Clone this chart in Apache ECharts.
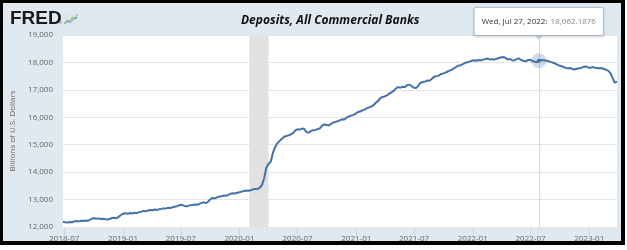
<!DOCTYPE html>
<html><head><meta charset="utf-8">
<script src="https://cdn.jsdelivr.net/npm/echarts@6/dist/echarts.min.js"></script>
<style>html,body{margin:0;padding:0;background:#fff}#c{width:627px;height:250px}</style>
</head><body><div id="c"></div>
<script>
// ---- data ----
const chartTitle = 'Deposits, All Commercial Banks';
const yAxisName = 'Billions of U.S. Dollars';
const firstWeek = '2018-06-27'; // weekly, Wednesdays
const values2018 = [12190,12170,12160,12185,12175,12200,12215,12205,12230,12220,12240,12225,12260,12310,12320,12300,12315,12290,12300,12280,12270,12300,12330,12340,12320,12380,12440];
const values2019 = [12490,12500,12480,12510,12490,12520,12505,12540,12560,12590,12570,12600,12620,12610,12640,12620,12650,12660,12680,12670,12700,12690,12720,12740,12760,12790,12810,12780,12750,12770,12790,12800,12820,12810,12840,12880,12900,12870,12930,13010,13060,13040,13080,13110,13120,13150,13140,13170,13210,13230,13220,13250];
const values2020 = [13270,13290,13310,13330,13320,13340,13370,13390,13380,13430,13520,13760,14150,14300,14380,14720,14920,15060,15140,15220,15290,15320,15340,15380,15420,15520,15560,15550,15590,15570,15460,15440,15500,15530,15540,15570,15600,15700,15740,15720,15700,15760,15810,15830,15860,15890,15930,15920,15990,16030,16060,16090,16130];
const values2021 = [16190,16210,16250,16280,16330,16360,16390,16440,16530,16590,16700,16740,16760,16800,16860,16910,16960,17050,17100,17080,17110,17100,17170,17190,17140,17080,17070,17140,17260,17280,17300,17340,17330,17390,17470,17500,17510,17570,17590,17620,17660,17700,17730,17780,17840,17880,17900,17940,17980,18010,18030,18060];
const values2022 = [18080,18060,18090,18070,18100,18120,18140,18110,18120,18100,18130,18160,18180,18200,18170,18110,18130,18080,18070,18120,18150,18090,18060,18040,18080,18100,18060,18030,18010,18062.1876,18090,18080,18070,18050,18030,18000,17970,17930,17890,17870,17840,17800,17790,17800,17760,17740,17770,17790,17800,17840,17850,17820];
const values2023 = [17800,17830,17810,17800,17790,17800,17760,17740,17700,17620,17440,17260,17300];
const xTickLabels = ['2018-07','2019-01','2019-07','2020-01','2020-07','2021-01','2021-07','2022-01','2022-07','2023-01'];
const yMin = 12000, yMax = 19000, yStep = 1000;
const recession = ['2020-02-01', '2020-04-01'];
const tipDate = '2022-07-27';
const tipLabel = 'Wed, Jul 27, 2022:';
const tipValue = 18062.1876;

// ---- build ----
function toTime(s) { const p = s.split('-').map(Number); return new Date(p[0], p[1] - 1, p[2] || 1).getTime(); }
const allValues = [].concat(values2018, values2019, values2020, values2021, values2022, values2023);
const f = firstWeek.split('-').map(Number);
const seriesData = allValues.map((v, i) => [new Date(f[0], f[1] - 1, f[2] + 7 * i).getTime(), v]);
const tickTimes = xTickLabels.map(toTime);
const tipTime = toTime(tipDate);
const labelOf = {};
xTickLabels.forEach((s, i) => { labelOf[tickTimes[i]] = s; });

const chart = echarts.init(document.getElementById('c'), null, { renderer: 'canvas' });
const FONT = 'Open Sans';
chart.setOption({
  animation: false,
  backgroundColor: '#e1e9f0',
  textStyle: { fontFamily: FONT },
  title: {
    text: chartTitle, left: 236, top: 10,
    textStyle: { fontSize: 12, fontWeight: 'bold', fontStyle: 'italic', color: '#111', fontFamily: FONT }
  },
  grid: { left: 63, right: 10, top: 35, bottom: 23, show: true, backgroundColor: '#fff', borderWidth: 0 },
  xAxis: {
    type: 'value', min: seriesData[0][0], max: seriesData[seriesData.length - 1][0],
    axisLine: { show: false },
    axisTick: { show: true, customValues: tickTimes, length: 8, lineStyle: { color: '#cdd6e2' } },
    axisLabel: {
      customValues: tickTimes, fontSize: 8, color: '#666', margin: 8, fontFamily: FONT,
      formatter: v => labelOf[v] || ''
    },
    splitLine: { show: false }
  },
  yAxis: {
    type: 'value', min: yMin, max: yMax, interval: yStep,
    name: yAxisName, nameLocation: 'middle', nameGap: 45,
    nameTextStyle: { fontSize: 8, color: '#666', fontFamily: FONT },
    axisLine: { show: false }, axisTick: { show: false },
    axisLabel: { fontSize: 8, color: '#666', margin: 10, fontFamily: FONT, formatter: v => v.toLocaleString('en-US') },
    splitLine: { lineStyle: { color: '#e6e6e6', width: 1 } }
  },
  series: [{
    type: 'line', data: seriesData, showSymbol: false, symbol: 'none',
    lineStyle: { color: '#4572a7', width: 2 }, itemStyle: { color: '#4572a7' },
    z: 3,
    markArea: {
      silent: true, itemStyle: { color: '#e1e1e1' },
      data: [[{ xAxis: toTime(recession[0]) }, { xAxis: toTime(recession[1]) }]]
    },
    markLine: {
      silent: true, symbol: 'none', animation: false,
      lineStyle: { color: '#d9d9d9', width: 1, type: 'solid' },
      label: {
        show: true, position: 'end', distance: 0,
        backgroundColor: '#fff', borderColor: '#b8c6d6', borderWidth: 1, borderRadius: 1,
        padding: [8, 7, 7, 7], shadowColor: 'rgba(0,0,0,0.15)', shadowBlur: 3, shadowOffsetY: 1,
        formatter: () => '{a|' + tipLabel + '} {b|' + tipValue.toLocaleString('en-US', { minimumFractionDigits: 4 }) + '}',
        rich: {
          a: { fontSize: 8, color: '#333', fontFamily: FONT },
          b: { fontSize: 8, color: '#8a8a8a', fontFamily: FONT }
        }
      },
      data: [{ xAxis: tipTime }]
    },
    markPoint: {
      silent: true, animation: false, label: { show: false },
      data: [
        { coord: [tipTime, tipValue], symbol: 'circle', symbolSize: 15, itemStyle: { color: 'rgba(69,114,167,0.25)' } },
        { coord: [tipTime, tipValue], symbol: 'circle', symbolSize: 4, itemStyle: { color: '#4572a7' } },
        { coord: [tipTime, yMax], symbol: 'path://M0,0L5,6L10,0', symbolSize: [9, 5], symbolOffset: [0, 1],
          itemStyle: { color: '#fff', borderColor: '#b8c6d6', borderWidth: 1 } }
      ]
    }
  }],
  graphic: [
    { type: 'text', left: 10, top: 9, z: 10, style: { text: 'FRED', fontSize: 19, fontWeight: 'bold', fontFamily: 'Liberation Sans', fill: '#1a1a1a' } },
    { type: 'text', left: 59, top: 21, z: 10, style: { text: '®', fontSize: 4, fill: '#333' } },
    { type: 'group', left: 62, top: 12, z: 10, children: [
      { type: 'rect', shape: { x: 0, y: 0, width: 15, height: 12 }, style: { fill: '#dde6ee' } },
      { type: 'polyline', shape: { points: [[1, 11], [4, 8], [6, 9], [9, 5], [11, 6], [14, 2]] }, style: { stroke: '#7fbf6a', lineWidth: 1.2, fill: null } },
      { type: 'polyline', shape: { points: [[1, 11], [4, 9], [7, 10], [10, 7], [14, 5]] }, style: { stroke: '#6f9ccc', lineWidth: 1, fill: null } }
    ] },
    { type: 'rect', shape: { x: 0, y: 0, width: 625, height: 3 }, style: { fill: '#000' }, z: 100 },
    { type: 'rect', shape: { x: 0, y: 0, width: 3, height: 245 }, style: { fill: '#000' }, z: 100 },
    { type: 'rect', shape: { x: 621, y: 0, width: 4, height: 245 }, style: { fill: '#000' }, z: 100 },
    { type: 'rect', shape: { x: 0, y: 241, width: 625, height: 4 }, style: { fill: '#000' }, z: 100 },
    { type: 'rect', shape: { x: 625, y: 0, width: 2, height: 250 }, style: { fill: '#fff' }, z: 100 },
    { type: 'rect', shape: { x: 0, y: 245, width: 627, height: 5 }, style: { fill: '#fff' }, z: 100 }
  ]
});
</script></body></html>
